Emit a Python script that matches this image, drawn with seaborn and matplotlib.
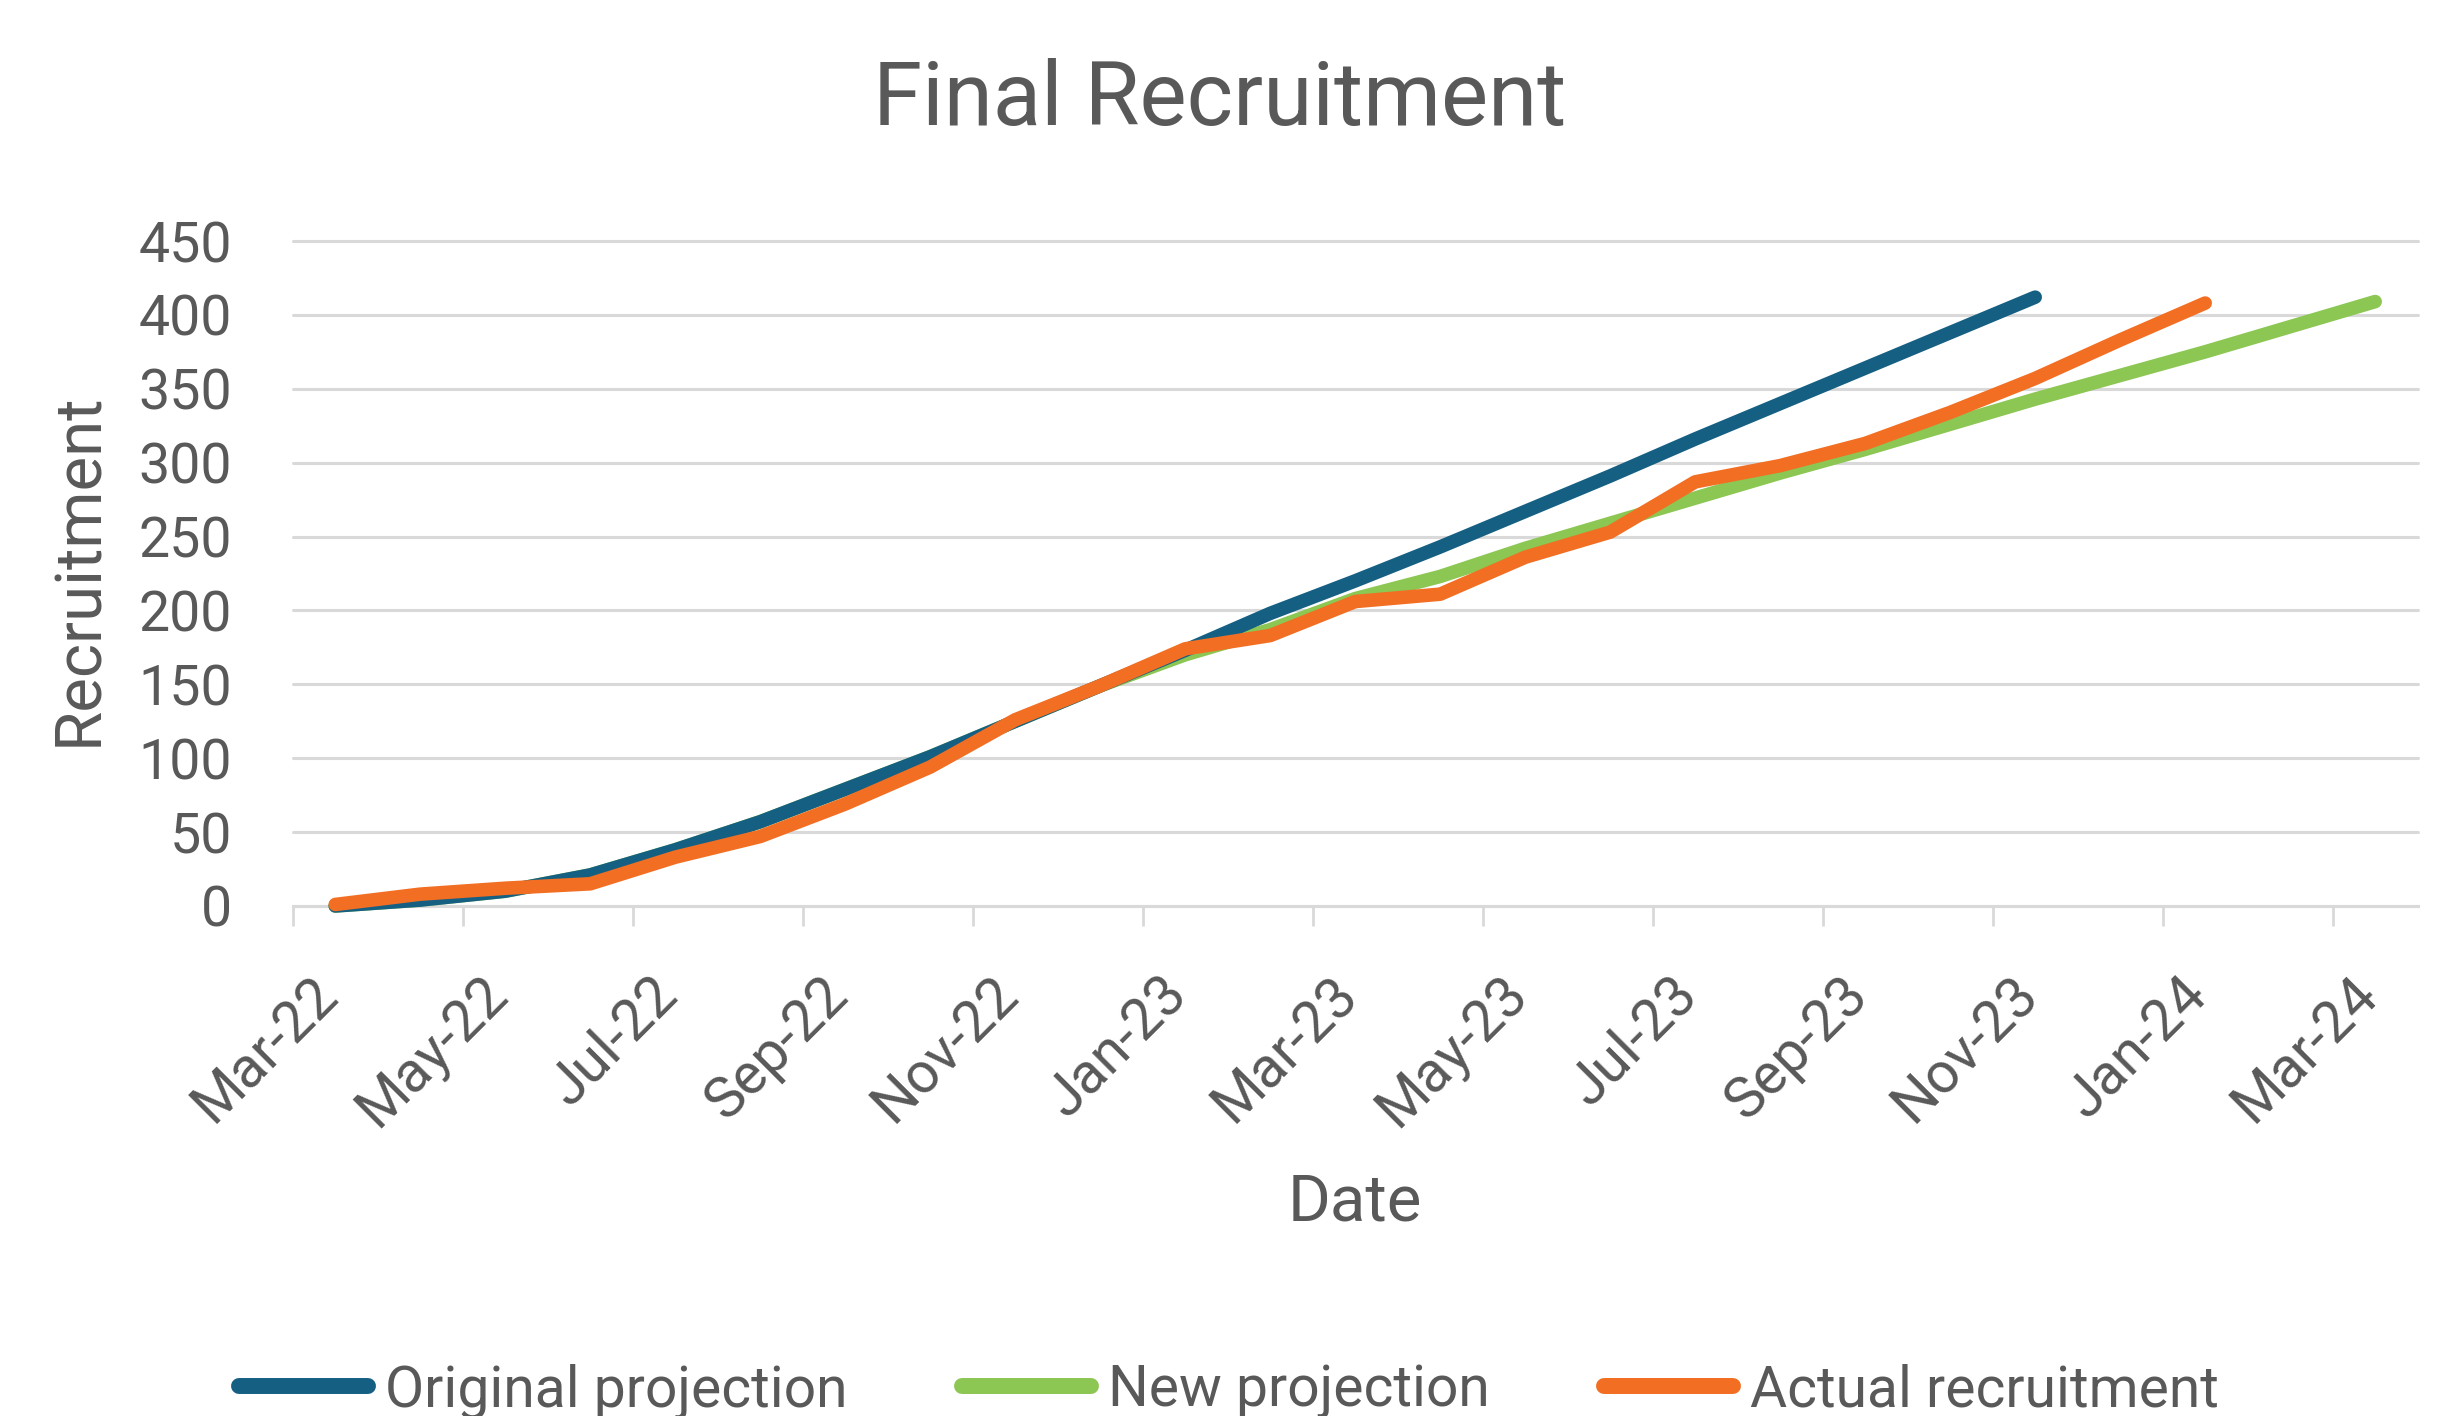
import matplotlib
matplotlib.use("Agg")
import matplotlib.pyplot as plt
import matplotlib.transforms as mtransforms
from matplotlib.lines import Line2D
import seaborn as sns
import pandas as pd

months = ["Mar-22", "Apr-22", "May-22", "Jun-22", "Jul-22", "Aug-22", "Sep-22",
          "Oct-22", "Nov-22", "Dec-22", "Jan-23", "Feb-23", "Mar-23", "Apr-23",
          "May-23", "Jun-23", "Jul-23", "Aug-23", "Sep-23", "Oct-23", "Nov-23",
          "Dec-23", "Jan-24", "Feb-24", "Mar-24"]

original_projection = [0, 4, 10, 21, 38, 57, 79, 101, 125, 149, 173, 198, 220,
                       243, 267, 291, 316, 340, 364, 388, 412]
new_projection = [0, 4, 10, 21, 38, 57, 79, 101, 125, 149, 170, 187, 208, 223,
                  242, 259, 276, 293, 309, 326, 343, 359, 375, 392, 409]
actual_recruitment = [1, 8, 12, 15, 33, 47, 69, 94, 126, 149, 174, 183, 206,
                      211, 236, 253, 287, 298, 313, 334, 357, 383, 408]

series_names = ["Original projection", "New projection", "Actual recruitment"]
colors = ["#156082", "#8CC653", "#F26E23"]
palette = dict(zip(series_names, colors))

# long format, points sit mid-month like an Excel date axis
rows = []
for name, vals in zip(series_names, [original_projection, new_projection, actual_recruitment]):
    for i, v in enumerate(vals):
        rows.append({"month": i + 0.5, "series": name, "recruitment": v})
df = pd.DataFrame(rows)

sns.set_theme(style="white")
plt.rcParams["font.family"] = ["Roboto", "DejaVu Sans"]
text_color = "#595959"
grid_color = "#D9D9D9"

fig = plt.figure(figsize=(24.52, 14.16), dpi=100)
ax = fig.add_axes([0.1194, 0.3602, 0.8666, 0.4696])

# green underneath, then blue, orange on top
draw_order = ["New projection", "Original projection", "Actual recruitment"]
sns.lineplot(data=df, x="month", y="recruitment", hue="series",
             hue_order=draw_order, palette=palette, linewidth=9.8,
             solid_capstyle="round", errorbar=None, legend=False,
             clip_on=False, zorder=3, ax=ax)

ax.set_xlim(0, 25)
ax.set_ylim(0, 450)
ax.set_yticks(range(0, 451, 50))
ax.set_xticks(range(0, 25, 2))
ax.set_xticklabels(months[::2])

ax.yaxis.grid(True, color=grid_color, linewidth=2.2)
ax.xaxis.grid(False)
for gl in ax.get_ygridlines():
    gl.set_clip_on(False)
for s in ["left", "top", "right"]:
    ax.spines[s].set_visible(False)
ax.spines["bottom"].set_color(grid_color)
ax.spines["bottom"].set_linewidth(2.2)

ax.tick_params(axis="x", bottom=True, length=14.4, width=2, color=grid_color,
               direction="out", pad=29.5, labelsize=41, labelcolor=text_color)
ax.tick_params(axis="y", left=False, length=0, pad=44, labelsize=40,
               labelcolor=text_color)

shift = mtransforms.ScaledTranslation(0.56, 0, fig.dpi_scale_trans)
for lab in ax.get_xticklabels():
    lab.set_rotation(45)
    lab.set_ha("right")
    lab.set_va("top")
    lab.set_transform(lab.get_transform() + shift)

ax.set_xlabel("Date", fontsize=47, color=text_color)
ax.xaxis.set_label_coords(0.5, -0.4)
ax.set_ylabel("Recruitment", fontsize=47, color=text_color)
ax.yaxis.set_label_coords(-0.086, 0.507)

fig.text(1220 / 2452, 1 - 125 / 1416, "Final Recruitment", ha="center",
         va="baseline", fontsize=64, color=text_color)

handles = [Line2D([], [], color=c, linewidth=11.5, solid_capstyle="round") for c in colors]
fig.legend(handles, series_names, loc="center",
           bbox_to_anchor=(1229 / 2452, 1 - 1391 / 1416), ncol=3, frameon=False,
           fontsize=41, handlelength=2.27, handletextpad=0.3, columnspacing=2.0,
           labelcolor=text_color)

fig.savefig("out.png", dpi=100)
